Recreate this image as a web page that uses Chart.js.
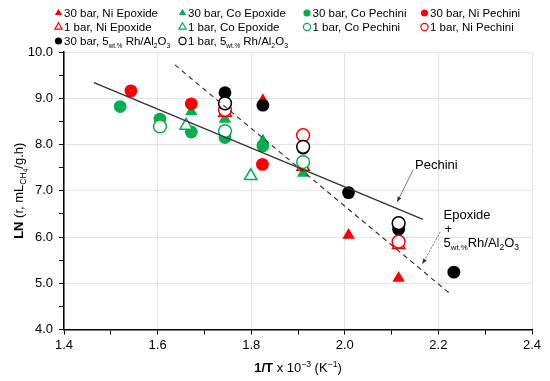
<!DOCTYPE html>
<html><head><meta charset="utf-8">
<script src="https://cdn.jsdelivr.net/npm/chart.js@4.4.1/dist/chart.umd.min.js"></script>
<style>html,body{margin:0;padding:0;background:#fff}#wrap{width:550px;height:381px;position:relative}</style>
</head><body><div id="wrap"><canvas id="c" width="550" height="381"></canvas></div>
<script>
// ---- data (x = 1/T x 10^-3, y = LN rate) ----
const niEpoxide30 = [[1.825, 8.95], [2.008, 6.04], [2.115, 5.11]];
const coEpoxide30 = [[1.672, 8.71], [1.744, 8.55], [1.825, 8.08], [1.911, 7.38]];
const coPechini30 = [[1.520, 8.82], [1.605, 8.55], [1.672, 8.27], [1.744, 8.15], [1.825, 7.97]];
const niPechini30 = [[1.543, 9.16], [1.672, 8.88], [1.824, 7.57]];
const niEpoxide1 = [[1.744, 8.69], [1.911, 7.52], [2.115, 5.83]];
const coEpoxide1 = [[1.661, 8.41], [1.799, 7.32]];
const coPechini1 = [[1.605, 8.39], [1.744, 8.29], [1.911, 7.62]];
const niPechini1 = [[1.744, 8.75], [1.911, 8.20], [2.115, 5.90]];
const rh30 = [[1.744, 9.12], [1.825, 8.85], [1.911, 7.92], [2.008, 6.96], [2.115, 6.17], [2.233, 5.24]];
const rh1 = [[1.744, 8.89], [1.911, 7.95], [2.115, 6.30]];
const pechiniTrend = [[1.464, 9.34], [2.167, 6.38]];
const epoxideTrend = [[1.637, 9.72], [2.222, 4.80]];
const xTicks = [1.4, 1.6, 1.8, 2.0, 2.2, 2.4];
const yTicks = [4.0, 5.0, 6.0, 7.0, 8.0, 9.0, 10.0];
// annotation anchors in data units
const pechiniLabel = [2.150, 7.58];
const pechiniArrow = [[2.146, 7.45], [2.112, 6.76]];
const epoxideLabel = [2.211, 6.50];
const epoxideArrow = [[2.204, 6.11], [2.166, 5.42]];

const RED = '#ff0000', GREEN = '#00b050', BLACK = '#000000';
const FONT = '"Liberation Sans", Arial, sans-serif';
const pts = a => a.map(p => ({x: p[0], y: p[1]}));

function mk(label, data, color, style, filled) {
  const tri = style === 'triangle';
  return {
    label, data: pts(data), type: 'scatter', showLine: false,
    pointStyle: style,
    pointRadius: tri ? 7.2 : 6.4,
    pointBackgroundColor: filled ? color : '#ffffff',
    pointBorderColor: color,
    pointBorderWidth: filled ? 0 : 1.5,
    _c: color, _s: style, _f: filled
  };
}
const series = [
  mk('30 bar, Ni Epoxide', niEpoxide30, RED, 'triangle', true),
  mk('30 bar, Co Epoxide', coEpoxide30, GREEN, 'triangle', true),
  mk('30 bar, Co Pechini', coPechini30, GREEN, 'circle', true),
  mk('30 bar, Ni Pechini', niPechini30, RED, 'circle', true),
  mk('1 bar, Ni Epoxide', niEpoxide1, RED, 'triangle', false),
  mk('1 bar, Co Epoxide', coEpoxide1, GREEN, 'triangle', false),
  mk('1 bar, Co Pechini', coPechini1, GREEN, 'circle', false),
  mk('1 bar, Ni Pechini', niPechini1, RED, 'circle', false),
  mk('30 bar, Rh', rh30, BLACK, 'circle', true),
  mk('1 bar, Rh', rh1, BLACK, 'circle', false)
];
// drawing order: first dataset is on top
const drawOrder = [9, 6, 7, 8, 4, 5, 2, 3, 1, 0];
const lineSets = [
  {label: 'Pechini', data: pts(pechiniTrend), type: 'scatter', showLine: true, borderColor: '#333', borderWidth: 1.3, pointRadius: 0, fill: false},
  {label: 'Epoxide', data: pts(epoxideTrend), type: 'scatter', showLine: true, borderColor: '#333', borderWidth: 1.1, borderDash: [5, 4], pointRadius: 0, fill: false}
];
const datasets = lineSets.concat(drawOrder.map(i => series[i]));

function drawMarker(ctx, x, y, r, color, style, filled) {
  ctx.save();
  ctx.beginPath();
  if (style === 'triangle') {
    for (let k = 0; k < 3; k++) {
      const a = k * 2 * Math.PI / 3;
      const px = x + Math.sin(a) * r, py = y - Math.cos(a) * r;
      k ? ctx.lineTo(px, py) : ctx.moveTo(px, py);
    }
    ctx.closePath();
  } else {
    ctx.arc(x, y, r, 0, Math.PI * 2);
  }
  if (filled) { ctx.fillStyle = color; ctx.fill(); }
  else { ctx.fillStyle = '#fff'; ctx.fill(); ctx.strokeStyle = color; ctx.lineWidth = 1.2; ctx.stroke(); }
  ctx.restore();
}

// rich text: segments {t, b, sub, sup, sub2, k (size factor)}
function segSize(s, size) {
  if (s.k) return size * s.k;
  if (s.sub || s.sup) return size * 0.66;
  if (s.sub2) return size * 0.5;
  return size;
}
function richWidth(ctx, segs, size) {
  let w = 0;
  for (const s of segs) {
    ctx.font = (s.b ? 'bold ' : '') + segSize(s, size) + 'px ' + FONT;
    w += ctx.measureText(s.t).width;
  }
  return w;
}
function drawRich(ctx, x, y, segs, size, align, color) {
  ctx.save();
  ctx.fillStyle = color || '#000';
  ctx.textBaseline = 'alphabetic';
  ctx.textAlign = 'left';
  const w = richWidth(ctx, segs, size);
  let cx = align === 'center' ? x - w / 2 : (align === 'right' ? x - w : x);
  const base = y + size * 0.36;
  for (const s of segs) {
    const sz = segSize(s, size);
    let dy = 0;
    if (s.sub) dy = size * 0.28;
    if (s.sub2) dy = size * 0.4;
    if (s.sup) dy = -size * 0.38;
    ctx.font = (s.b ? 'bold ' : '') + sz + 'px ' + FONT;
    ctx.fillText(s.t, cx, base + dy);
    cx += ctx.measureText(s.t).width;
  }
  ctx.restore();
}
function arrow(ctx, x1, y1, x2, y2, dash) {
  ctx.save();
  ctx.strokeStyle = '#555'; ctx.fillStyle = '#333'; ctx.lineWidth = 0.8;
  if (dash) ctx.setLineDash(dash);
  ctx.beginPath(); ctx.moveTo(x1, y1); ctx.lineTo(x2, y2); ctx.stroke();
  ctx.setLineDash([]);
  const a = Math.atan2(y2 - y1, x2 - x1), L = 5, W = 2.2;
  ctx.beginPath();
  ctx.moveTo(x2, y2);
  ctx.lineTo(x2 - L * Math.cos(a) + W * Math.sin(a), y2 - L * Math.sin(a) - W * Math.cos(a));
  ctx.lineTo(x2 - L * Math.cos(a) - W * Math.sin(a), y2 - L * Math.sin(a) + W * Math.cos(a));
  ctx.closePath(); ctx.fill();
  ctx.restore();
}

const rhSegs = pre => [{t: pre + '5'}, {t: 'wt.%', sub: true, k: 0.55}, {t: ' Rh/Al'}, {t: '2', sub: true, k: 0.6}, {t: 'O'}, {t: '3', sub: true, k: 0.6}];
const legendItems = [
  [0, 0, 0, series[0].label], [1, 0, 1, series[1].label], [2, 0, 2, series[2].label], [3, 0, 3, series[3].label],
  [0, 1, 4, series[4].label], [1, 1, 5, series[5].label], [2, 1, 6, series[6].label], [3, 1, 7, series[7].label],
  [0, 2, 8, null], [1, 2, 9, null]
];
const legX = [58.5, 182.5, 307, 424.5];
const legY = [13, 27, 41];

const overlay = {
  id: 'overlay',
  afterDraw(chart) {
    const ctx = chart.ctx, xs = chart.scales.x, ys = chart.scales.y;
    // legend
    for (const [c, r, si, lab] of legendItems) {
      const s = series[si];
      const mx = legX[c], my = legY[r];
      drawMarker(ctx, mx, my, s._s === 'triangle' ? 4.2 : 3.6, s._c, s._s, s._f);
      const segs = lab ? [{t: lab}] : rhSegs(si === 8 ? '30 bar, ' : '1 bar, ');
      drawRich(ctx, mx + 5.5, my, segs, 11.5, 'left');
    }
    // axis titles
    drawRich(ctx, (chart.chartArea.left + chart.chartArea.right) / 2, 367,
      [{t: '1/T', b: true}, {t: ' x 10'}, {t: '\u22123', sup: true}, {t: ' (K'}, {t: '\u22121', sup: true}, {t: ')'}], 13, 'center');
    ctx.save();
    ctx.translate(18, (chart.chartArea.top + chart.chartArea.bottom) / 2);
    ctx.rotate(-Math.PI / 2);
    drawRich(ctx, 0, 0, [{t: 'LN', b: true}, {t: ' (r, mL'}, {t: 'CH', sub: true}, {t: '4', sub2: true}, {t: '/g.h)'}], 13, 'center');
    ctx.restore();
    // annotations
    const P = p => [xs.getPixelForValue(p[0]), ys.getPixelForValue(p[1])];
    const pl = P(pechiniLabel);
    drawRich(ctx, pl[0], pl[1], [{t: 'Pechini'}], 13, 'left');
    const pa = P(pechiniArrow[0]), pb = P(pechiniArrow[1]);
    arrow(ctx, pa[0], pa[1], pb[0], pb[1]);
    const el = P(epoxideLabel);
    drawRich(ctx, el[0], el[1], [{t: 'Epoxide'}], 13, 'left');
    drawRich(ctx, el[0] + 1, el[1] + 14, [{t: '+'}], 13, 'left');
    drawRich(ctx, el[0], el[1] + 28, [{t: '5'}, {t: 'wt.%', sub: true, k: 0.6}, {t: 'Rh/Al'}, {t: '2', sub: true}, {t: 'O'}, {t: '3', sub: true}], 13, 'left');
    const ea = P(epoxideArrow[0]), eb = P(epoxideArrow[1]);
    arrow(ctx, ea[0], ea[1], eb[0], eb[1], [2, 1.5]);
  }
};

const isMajor = (v, step) => Math.abs(Math.round(v / step) * step - v) < 1e-6;

new Chart(document.getElementById('c'), {
  type: 'scatter',
  data: {datasets},
  options: {
    responsive: false, animation: false, devicePixelRatio: 1,
    layout: {padding: {left: 0, right: 18, top: 52, bottom: 0}},
    plugins: {legend: {display: false}, tooltip: {enabled: false}},
    scales: {
      x: {
        type: 'linear', min: xTicks[0], max: xTicks[xTicks.length - 1],
        afterFit: s => { s.height = 51.5; },
        ticks: {stepSize: 0.1, autoSkip: false, maxRotation: 0, padding: 3, color: '#000',
          font: {size: 13, family: FONT},
          callback: v => isMajor(v, 0.2) && xTicks.some(t => Math.abs(t - v) < 1e-6) ? v.toFixed(1) : ''},
        grid: {drawTicks: true, tickLength: 5,
          color: c => (c.tick && isMajor(c.tick.value, 0.2)) ? '#e3e3e3' : 'rgba(0,0,0,0)',
          tickColor: '#000', lineWidth: 1},
        border: {color: '#000', width: 1.5}
      },
      y: {
        type: 'linear', min: yTicks[0], max: yTicks[yTicks.length - 1],
        afterFit: s => { s.width = 64; },
        ticks: {stepSize: 0.5, autoSkip: false, padding: 6, color: '#000',
          font: {size: 13, family: FONT},
          callback: v => yTicks.some(t => Math.abs(t - v) < 1e-6) ? v.toFixed(1) : ''},
        grid: {drawTicks: true, tickLength: 5,
          color: c => (c.tick && isMajor(c.tick.value, 1)) ? '#e3e3e3' : 'rgba(0,0,0,0)',
          tickColor: '#000', lineWidth: 1},
        border: {color: '#000', width: 1.5}
      }
    }
  },
  plugins: [overlay]
});
</script></body></html>
